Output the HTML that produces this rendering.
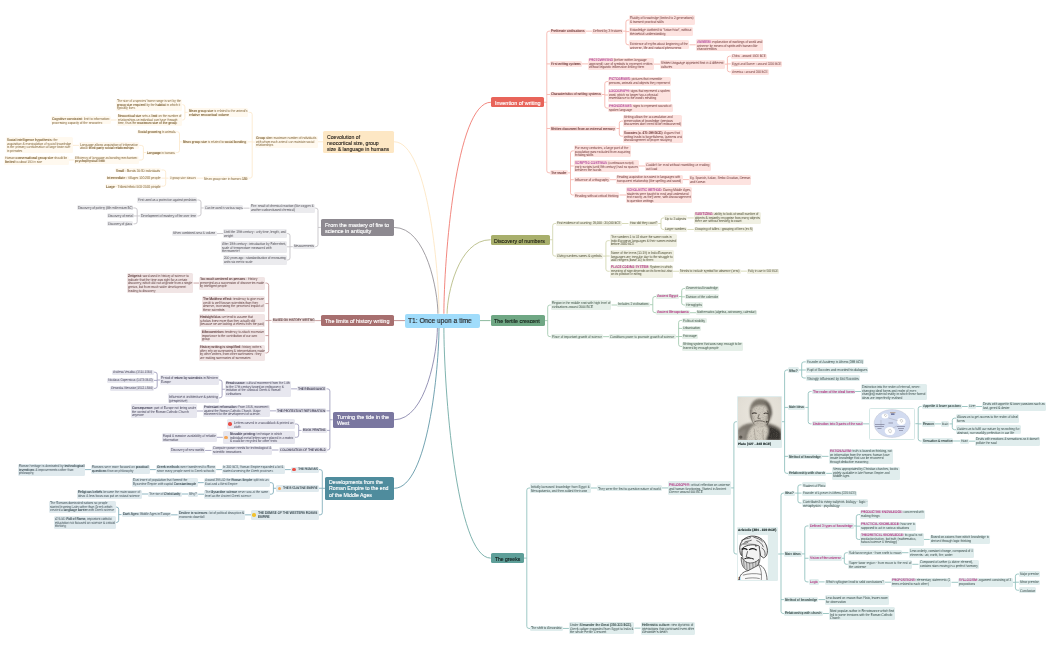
<!DOCTYPE html><html><head><meta charset="utf-8"><style>
*{margin:0;padding:0;box-sizing:border-box}
html,body{width:1050px;height:650px;overflow:hidden;background:#fff}
body{position:relative;font-family:"Liberation Sans",sans-serif}
.nd{position:absolute;border-radius:1.5px;display:flex;align-items:center;padding-left:1px;white-space:nowrap;overflow:visible}
.nd b{font-weight:bold}
.nd i{font-style:normal;font-weight:bold}
.mn{padding-left:3.9px}
.mn .t{top:1.4px;text-rendering:auto}
.mb .t{-webkit-text-stroke:0.12px currentColor}
.mw .t{-webkit-text-stroke:0.14px currentColor}
.t{transform-origin:0 50%;display:block;font-size:10px;line-height:10px;position:relative;top:0.55px;text-rendering:geometricPrecision;will-change:transform}
.ic{position:absolute;left:1.4px;top:50%;margin-top:-1.75px;width:3.5px;height:3.5px;border-radius:50%}
svg{position:absolute;left:0;top:0}
</style></head><body><svg width="1050" height="650" viewBox="0 0 1050 650" fill="none">
<path d="M323.30 141.80H317.50" stroke="#fce9cc" stroke-width="0.85"/>
<path d="M255.00 142.05H252.20" stroke="#fce9cc" stroke-width="0.85"/>
<path d="M248.50 112.30H250.00Q252.20 112.30 252.20 114.50V175.95Q252.20 178.15 250.00 178.15H248.50" stroke="#fce9cc" stroke-width="0.85"/>
<path d="M252.20 141.85H247.70" stroke="#fce9cc" stroke-width="0.85"/>
<path d="M187.70 112.30H184.90" stroke="#fce9cc" stroke-width="0.85"/>
<path d="M182.30 104.65H182.70Q184.90 104.65 184.90 106.85V117.80Q184.90 120.00 182.70 120.00H182.30" stroke="#fce9cc" stroke-width="0.85"/>
<path d="M116.60 120.00H110.80" stroke="#fce9cc" stroke-width="0.85"/>
<path d="M182.30 141.85H179.50" stroke="#fce9cc" stroke-width="0.85"/>
<path d="M176.20 131.75H177.30Q179.50 131.75 179.50 133.95V150.35Q179.50 152.55 177.30 152.55H176.20" stroke="#fce9cc" stroke-width="0.85"/>
<path d="M146.20 152.55H143.40" stroke="#fce9cc" stroke-width="0.85"/>
<path d="M139.20 145.35H141.20Q143.40 145.35 143.40 147.55V157.80Q143.40 160.00 141.20 160.00H139.20" stroke="#fce9cc" stroke-width="0.85"/>
<path d="M79.00 145.35H72.70" stroke="#fce9cc" stroke-width="0.85"/>
<path d="M74.40 160.00H68.70" stroke="#fce9cc" stroke-width="0.85"/>
<path d="M203.00 178.15H196.90" stroke="#fce9cc" stroke-width="0.85"/>
<path d="M168.50 178.15H165.70" stroke="#fce9cc" stroke-width="0.85"/>
<path d="M161.50 170.00H163.50Q165.70 170.00 165.70 172.20V183.95Q165.70 186.15 163.50 186.15H161.50" stroke="#fce9cc" stroke-width="0.85"/>
<path d="M165.70 178.15H161.50" stroke="#fce9cc" stroke-width="0.85"/>
<path d="M320.80 227.45H318.00" stroke="#c3c1c5" stroke-width="0.85"/>
<path d="M314.60 208.15H315.80Q318.00 208.15 318.00 210.35V244.50Q318.00 246.70 315.80 246.70H314.60" stroke="#c3c1c5" stroke-width="0.85"/>
<path d="M249.50 208.15H243.40" stroke="#c3c1c5" stroke-width="0.85"/>
<path d="M203.80 207.95H201.00" stroke="#c3c1c5" stroke-width="0.85"/>
<path d="M197.40 200.00H198.80Q201.00 200.00 201.00 202.20V213.75Q201.00 215.95 198.80 215.95H197.40" stroke="#c3c1c5" stroke-width="0.85"/>
<path d="M140.00 215.95H137.20" stroke="#c3c1c5" stroke-width="0.85"/>
<path d="M133.50 207.95H135.00Q137.20 207.95 137.20 210.15V221.65Q137.20 223.85 135.00 223.85H133.50" stroke="#c3c1c5" stroke-width="0.85"/>
<path d="M137.20 215.95H133.50" stroke="#c3c1c5" stroke-width="0.85"/>
<path d="M292.80 246.70H290.00" stroke="#c3c1c5" stroke-width="0.85"/>
<path d="M286.90 233.55H287.80Q290.00 233.55 290.00 235.75V257.80Q290.00 260.00 287.80 260.00H286.90" stroke="#c3c1c5" stroke-width="0.85"/>
<path d="M290.00 246.80H286.90" stroke="#c3c1c5" stroke-width="0.85"/>
<path d="M223.00 233.55H216.60" stroke="#c3c1c5" stroke-width="0.85"/>
<path d="M321.10 320.60H315.10" stroke="#c19393" stroke-width="0.85"/>
<path d="M271.50 320.40H268.70" stroke="#c19393" stroke-width="0.85"/>
<path d="M265.40 283.05H266.50Q268.70 283.05 268.70 285.25V350.75Q268.70 352.95 266.50 352.95H265.40" stroke="#c19393" stroke-width="0.85"/>
<path d="M268.70 303.55H265.40" stroke="#c19393" stroke-width="0.85"/>
<path d="M268.70 320.60H265.40" stroke="#c19393" stroke-width="0.85"/>
<path d="M268.70 335.60H265.40" stroke="#c19393" stroke-width="0.85"/>
<path d="M199.20 283.05H193.50" stroke="#c19393" stroke-width="0.85"/>
<path d="M332.70 419.75H329.90" stroke="#9e9cbc" stroke-width="0.85"/>
<path d="M326.50 388.85H327.70Q329.90 388.85 329.90 391.05V447.80Q329.90 450.00 327.70 450.00H326.50" stroke="#9e9cbc" stroke-width="0.85"/>
<path d="M329.90 410.85H326.50" stroke="#9e9cbc" stroke-width="0.85"/>
<path d="M329.90 430.40H326.50" stroke="#9e9cbc" stroke-width="0.85"/>
<path d="M297.20 388.85H291.10" stroke="#9e9cbc" stroke-width="0.85"/>
<path d="M224.90 389.25H222.10" stroke="#9e9cbc" stroke-width="0.85"/>
<path d="M218.80 380.00H219.90Q222.10 380.00 222.10 382.20V395.65Q222.10 397.85 219.90 397.85H218.80" stroke="#9e9cbc" stroke-width="0.85"/>
<path d="M160.00 380.00H157.20" stroke="#9e9cbc" stroke-width="0.85"/>
<path d="M153.80 372.20H155.00Q157.20 372.20 157.20 374.40V386.20Q157.20 388.40 155.00 388.40H153.80" stroke="#9e9cbc" stroke-width="0.85"/>
<path d="M157.20 380.40H153.80" stroke="#9e9cbc" stroke-width="0.85"/>
<path d="M276.20 410.85H270.00" stroke="#9e9cbc" stroke-width="0.85"/>
<path d="M203.40 411.00H196.90" stroke="#9e9cbc" stroke-width="0.85"/>
<path d="M301.50 430.40H298.70" stroke="#9e9cbc" stroke-width="0.85"/>
<path d="M294.60 424.00H296.50Q298.70 424.00 298.70 426.20V435.10Q298.70 437.30 296.50 437.30H294.60" stroke="#9e9cbc" stroke-width="0.85"/>
<path d="M222.80 437.30H216.60" stroke="#9e9cbc" stroke-width="0.85"/>
<path d="M278.50 450.00H272.00" stroke="#9e9cbc" stroke-width="0.85"/>
<path d="M211.50 450.45H205.10" stroke="#9e9cbc" stroke-width="0.85"/>
<path d="M325.10 488.30H322.30" stroke="#7caab8" stroke-width="0.85"/>
<path d="M318.80 469.60H320.10Q322.30 469.60 322.30 471.80V512.65Q322.30 514.85 320.10 514.85H318.80" stroke="#7caab8" stroke-width="0.85"/>
<path d="M322.30 488.25H318.80" stroke="#7caab8" stroke-width="0.85"/>
<path d="M290.80 469.60H284.60" stroke="#7caab8" stroke-width="0.85"/>
<path d="M222.30 469.60H216.20" stroke="#7caab8" stroke-width="0.85"/>
<path d="M155.80 469.60H149.70" stroke="#7caab8" stroke-width="0.85"/>
<path d="M91.10 469.60H84.90" stroke="#7caab8" stroke-width="0.85"/>
<path d="M276.20 488.25H273.40" stroke="#7caab8" stroke-width="0.85"/>
<path d="M269.70 482.65H271.20Q273.40 482.65 273.40 484.85V492.00Q273.40 494.20 271.20 494.20H269.70" stroke="#7caab8" stroke-width="0.85"/>
<path d="M203.80 482.65H197.70" stroke="#7caab8" stroke-width="0.85"/>
<path d="M204.30 494.20H198.20" stroke="#7caab8" stroke-width="0.85"/>
<path d="M188.20 494.00H181.50" stroke="#7caab8" stroke-width="0.85"/>
<path d="M148.00 494.00H141.80" stroke="#7caab8" stroke-width="0.85"/>
<path d="M251.10 514.85H245.10" stroke="#7caab8" stroke-width="0.85"/>
<path d="M177.70 514.85H171.10" stroke="#7caab8" stroke-width="0.85"/>
<path d="M121.50 514.60H118.70" stroke="#7caab8" stroke-width="0.85"/>
<path d="M115.80 507.10H116.50Q118.70 507.10 118.70 509.30V520.25Q118.70 522.45 116.50 522.45H115.80" stroke="#7caab8" stroke-width="0.85"/>
<path d="M544.00 102.25H546.80" stroke="#f6b2aa" stroke-width="0.85"/>
<path d="M550.30 31.15H549.00Q546.80 31.15 546.80 33.35V170.65Q546.80 172.85 549.00 172.85H550.30" stroke="#f6b2aa" stroke-width="0.85"/>
<path d="M546.80 63.90H550.30" stroke="#f6b2aa" stroke-width="0.85"/>
<path d="M546.80 94.50H550.30" stroke="#f6b2aa" stroke-width="0.85"/>
<path d="M546.80 128.50H550.30" stroke="#f6b2aa" stroke-width="0.85"/>
<path d="M585.70 31.15H592.00" stroke="#f6b2aa" stroke-width="0.85"/>
<path d="M623.10 31.15H625.90" stroke="#f6b2aa" stroke-width="0.85"/>
<path d="M629.20 20.00H628.10Q625.90 20.00 625.90 22.20V42.60Q625.90 44.80 628.10 44.80H629.20" stroke="#f6b2aa" stroke-width="0.85"/>
<path d="M625.90 31.60H629.20" stroke="#f6b2aa" stroke-width="0.85"/>
<path d="M689.50 44.80H695.70" stroke="#f6b2aa" stroke-width="0.85"/>
<path d="M582.00 63.90H588.20" stroke="#f6b2aa" stroke-width="0.85"/>
<path d="M653.80 64.10H660.00" stroke="#f6b2aa" stroke-width="0.85"/>
<path d="M724.60 64.15H727.40" stroke="#f6b2aa" stroke-width="0.85"/>
<path d="M730.80 56.15H729.60Q727.40 56.15 727.40 58.35V69.70Q727.40 71.90 729.60 71.90H730.80" stroke="#f6b2aa" stroke-width="0.85"/>
<path d="M727.40 63.90H730.80" stroke="#f6b2aa" stroke-width="0.85"/>
<path d="M602.00 94.50H604.80" stroke="#f6b2aa" stroke-width="0.85"/>
<path d="M608.20 81.55H607.00Q604.80 81.55 604.80 83.75V105.90Q604.80 108.10 607.00 108.10H608.20" stroke="#f6b2aa" stroke-width="0.85"/>
<path d="M604.80 95.00H608.20" stroke="#f6b2aa" stroke-width="0.85"/>
<path d="M616.50 128.50H619.30" stroke="#f6b2aa" stroke-width="0.85"/>
<path d="M623.10 121.10H621.50Q619.30 121.10 619.30 123.30V134.00Q619.30 136.20 621.50 136.20H623.10" stroke="#f6b2aa" stroke-width="0.85"/>
<path d="M567.70 172.85H570.50" stroke="#f6b2aa" stroke-width="0.85"/>
<path d="M573.80 150.90H572.70Q570.50 150.90 570.50 153.10V192.80Q570.50 195.00 572.70 195.00H573.80" stroke="#f6b2aa" stroke-width="0.85"/>
<path d="M570.50 166.00H573.80" stroke="#f6b2aa" stroke-width="0.85"/>
<path d="M570.50 179.70H573.80" stroke="#f6b2aa" stroke-width="0.85"/>
<path d="M638.90 166.00H645.30" stroke="#f6b2aa" stroke-width="0.85"/>
<path d="M609.70 179.70H616.20" stroke="#f6b2aa" stroke-width="0.85"/>
<path d="M682.60 179.60H688.90" stroke="#f6b2aa" stroke-width="0.85"/>
<path d="M619.50 195.00H626.20" stroke="#f6b2aa" stroke-width="0.85"/>
<path d="M549.90 239.75H552.70" stroke="#d1d5ad" stroke-width="0.85"/>
<path d="M556.20 223.50H554.90Q552.70 223.50 552.70 225.70V253.90Q552.70 256.10 554.90 256.10H556.20" stroke="#d1d5ad" stroke-width="0.85"/>
<path d="M622.00 223.50H628.50" stroke="#d1d5ad" stroke-width="0.85"/>
<path d="M658.20 223.50H661.00" stroke="#d1d5ad" stroke-width="0.85"/>
<path d="M664.30 217.95H663.20Q661.00 217.95 661.00 220.15V227.25Q661.00 229.45 663.20 229.45H664.30" stroke="#d1d5ad" stroke-width="0.85"/>
<path d="M687.40 217.95H693.80" stroke="#d1d5ad" stroke-width="0.85"/>
<path d="M687.40 229.45H693.80" stroke="#d1d5ad" stroke-width="0.85"/>
<path d="M603.10 256.10H605.90" stroke="#d1d5ad" stroke-width="0.85"/>
<path d="M609.70 240.65H608.10Q605.90 240.65 605.90 242.85V269.05Q605.90 271.25 608.10 271.25H609.70" stroke="#d1d5ad" stroke-width="0.85"/>
<path d="M605.90 256.00H609.70" stroke="#d1d5ad" stroke-width="0.85"/>
<path d="M673.10 271.25H679.20" stroke="#d1d5ad" stroke-width="0.85"/>
<path d="M740.80 271.15H746.90" stroke="#d1d5ad" stroke-width="0.85"/>
<path d="M544.90 320.60H547.70" stroke="#a0c9ad" stroke-width="0.85"/>
<path d="M550.80 305.00H549.90Q547.70 305.00 547.70 307.20V334.45Q547.70 336.65 549.90 336.65H550.80" stroke="#a0c9ad" stroke-width="0.85"/>
<path d="M611.50 305.00H617.40" stroke="#a0c9ad" stroke-width="0.85"/>
<path d="M650.00 304.70H652.80" stroke="#a0c9ad" stroke-width="0.85"/>
<path d="M656.20 296.50H655.00Q652.80 296.50 652.80 298.70V310.50Q652.80 312.70 655.00 312.70H656.20" stroke="#a0c9ad" stroke-width="0.85"/>
<path d="M678.90 296.50H681.70" stroke="#a0c9ad" stroke-width="0.85"/>
<path d="M685.10 288.50H683.90Q681.70 288.50 681.70 290.70V302.80Q681.70 305.00 683.90 305.00H685.10" stroke="#a0c9ad" stroke-width="0.85"/>
<path d="M681.70 296.85H685.10" stroke="#a0c9ad" stroke-width="0.85"/>
<path d="M690.00 312.70H696.20" stroke="#a0c9ad" stroke-width="0.85"/>
<path d="M603.10 336.65H609.20" stroke="#a0c9ad" stroke-width="0.85"/>
<path d="M675.80 336.65H678.60" stroke="#a0c9ad" stroke-width="0.85"/>
<path d="M682.30 320.40H680.80Q678.60 320.40 678.60 322.60V344.25Q678.60 346.45 680.80 346.45H682.30" stroke="#a0c9ad" stroke-width="0.85"/>
<path d="M678.60 328.40H682.30" stroke="#a0c9ad" stroke-width="0.85"/>
<path d="M678.60 336.50H682.30" stroke="#a0c9ad" stroke-width="0.85"/>
<path d="M524.00 558.10H526.80" stroke="#8dbeba" stroke-width="0.85"/>
<path d="M530.00 488.00H529.00Q526.80 488.00 526.80 490.20V626.25Q526.80 628.45 529.00 628.45H530.00" stroke="#8dbeba" stroke-width="0.85"/>
<path d="M590.80 488.00H596.90" stroke="#8dbeba" stroke-width="0.85"/>
<path d="M662.00 487.95H668.00" stroke="#8dbeba" stroke-width="0.85"/>
<path d="M731.10 487.90H733.90" stroke="#8dbeba" stroke-width="0.85"/>
<path d="M736.90 421.70H736.10Q733.90 421.70 733.90 423.90V551.80Q733.90 554.00 736.10 554.00H737.00" stroke="#8dbeba" stroke-width="0.85"/>
<path d="M562.60 628.45H568.90" stroke="#8dbeba" stroke-width="0.85"/>
<path d="M634.50 628.15H640.60" stroke="#8dbeba" stroke-width="0.85"/>
<path d="M781.80 421.70H784.60" stroke="#8dbeba" stroke-width="0.85"/>
<path d="M788.20 370.00H786.80Q784.60 370.00 784.60 372.20V471.15Q784.60 473.35 786.80 473.35H788.00" stroke="#8dbeba" stroke-width="0.85"/>
<path d="M784.60 407.40H788.20" stroke="#8dbeba" stroke-width="0.85"/>
<path d="M784.60 456.35H788.00" stroke="#8dbeba" stroke-width="0.85"/>
<path d="M798.90 370.00H801.70" stroke="#8dbeba" stroke-width="0.85"/>
<path d="M805.80 361.90H803.90Q801.70 361.90 801.70 364.10V375.80Q801.70 378.00 803.90 378.00H805.80" stroke="#8dbeba" stroke-width="0.85"/>
<path d="M801.70 370.00H805.80" stroke="#8dbeba" stroke-width="0.85"/>
<path d="M805.40 407.40H808.20" stroke="#8dbeba" stroke-width="0.85"/>
<path d="M811.50 391.50H810.40Q808.20 391.50 808.20 393.70V421.65Q808.20 423.85 810.40 423.85H811.50" stroke="#8dbeba" stroke-width="0.85"/>
<path d="M855.10 391.50H861.10" stroke="#8dbeba" stroke-width="0.85"/>
<path d="M863.10 423.85H869.20" stroke="#8dbeba" stroke-width="0.85"/>
<path d="M915.40 423.70H918.20" stroke="#8dbeba" stroke-width="0.85"/>
<path d="M921.50 406.50H920.40Q918.20 406.50 918.20 408.70V438.80Q918.20 441.00 920.40 441.00H921.50" stroke="#8dbeba" stroke-width="0.85"/>
<path d="M918.20 423.90H921.50" stroke="#8dbeba" stroke-width="0.85"/>
<path d="M961.50 406.50H967.70" stroke="#8dbeba" stroke-width="0.85"/>
<path d="M976.20 406.50H982.30" stroke="#8dbeba" stroke-width="0.85"/>
<path d="M934.60 423.90H941.20" stroke="#8dbeba" stroke-width="0.85"/>
<path d="M949.50 423.90H952.30" stroke="#8dbeba" stroke-width="0.85"/>
<path d="M956.20 418.15H954.50Q952.30 418.15 952.30 420.35V427.50Q952.30 429.70 954.50 429.70H956.20" stroke="#8dbeba" stroke-width="0.85"/>
<path d="M953.10 441.00H960.00" stroke="#8dbeba" stroke-width="0.85"/>
<path d="M968.90 441.15H975.10" stroke="#8dbeba" stroke-width="0.85"/>
<path d="M821.80 456.35H828.50" stroke="#8dbeba" stroke-width="0.85"/>
<path d="M826.20 473.35H832.30" stroke="#8dbeba" stroke-width="0.85"/>
<path d="M778.20 554.00H781.00" stroke="#8dbeba" stroke-width="0.85"/>
<path d="M784.30 493.10H783.20Q781.00 493.10 781.00 495.30V611.30Q781.00 613.50 783.20 613.50H784.30" stroke="#8dbeba" stroke-width="0.85"/>
<path d="M781.00 553.90H784.30" stroke="#8dbeba" stroke-width="0.85"/>
<path d="M781.00 599.60H784.30" stroke="#8dbeba" stroke-width="0.85"/>
<path d="M795.10 493.10H797.90" stroke="#8dbeba" stroke-width="0.85"/>
<path d="M801.50 484.85H800.10Q797.90 484.85 797.90 487.05V500.75Q797.90 502.95 800.10 502.95H801.50" stroke="#8dbeba" stroke-width="0.85"/>
<path d="M797.90 493.10H801.50" stroke="#8dbeba" stroke-width="0.85"/>
<path d="M802.00 553.90H804.80" stroke="#8dbeba" stroke-width="0.85"/>
<path d="M808.50 525.95H807.00Q804.80 525.95 804.80 528.15V579.70Q804.80 581.90 807.00 581.90H808.50" stroke="#8dbeba" stroke-width="0.85"/>
<path d="M804.80 558.25H808.50" stroke="#8dbeba" stroke-width="0.85"/>
<path d="M853.50 525.95H856.30" stroke="#8dbeba" stroke-width="0.85"/>
<path d="M860.30 514.60H858.50Q856.30 514.60 856.30 516.80V537.25Q856.30 539.45 858.50 539.45H860.30" stroke="#8dbeba" stroke-width="0.85"/>
<path d="M856.30 526.15H860.30" stroke="#8dbeba" stroke-width="0.85"/>
<path d="M923.80 539.45H929.70" stroke="#8dbeba" stroke-width="0.85"/>
<path d="M841.50 558.25H844.30" stroke="#8dbeba" stroke-width="0.85"/>
<path d="M847.70 552.70H846.50Q844.30 552.70 844.30 554.90V562.10Q844.30 564.30 846.50 564.30H847.70" stroke="#8dbeba" stroke-width="0.85"/>
<path d="M902.00 552.70H908.50" stroke="#8dbeba" stroke-width="0.85"/>
<path d="M912.30 564.30H918.50" stroke="#8dbeba" stroke-width="0.85"/>
<path d="M818.50 581.90H824.60" stroke="#8dbeba" stroke-width="0.85"/>
<path d="M884.60 582.20H891.10" stroke="#8dbeba" stroke-width="0.85"/>
<path d="M951.50 582.30H958.20" stroke="#8dbeba" stroke-width="0.85"/>
<path d="M1012.60 582.30H1015.40" stroke="#8dbeba" stroke-width="0.85"/>
<path d="M1018.90 574.05H1017.60Q1015.40 574.05 1015.40 576.25V588.05Q1015.40 590.25 1017.60 590.25H1018.90" stroke="#8dbeba" stroke-width="0.85"/>
<path d="M1015.40 582.20H1018.90" stroke="#8dbeba" stroke-width="0.85"/>
<path d="M818.50 599.60H825.10" stroke="#8dbeba" stroke-width="0.85"/>
<path d="M822.80 613.50H828.90" stroke="#8dbeba" stroke-width="0.85"/>
<path d="M394.10 141.80C427.77 141.80 439.00 270.73 439.00 313.70" stroke="#fde3bd" stroke-width="0.8"/>
<path d="M394.10 227.45C426.95 227.45 437.90 292.14 437.90 313.70" stroke="#8a868d" stroke-width="0.8"/>
<path d="M490.90 102.25C455.65 102.25 443.90 260.84 443.90 313.70" stroke="#ef6a5f" stroke-width="0.8"/>
<path d="M490.60 239.75C457.98 239.75 447.10 295.21 447.10 313.70" stroke="#aeb476" stroke-width="0.8"/>
<path d="M394.10 419.75C426.57 419.75 437.40 350.64 437.40 327.60" stroke="#7b78a3" stroke-width="0.8"/>
<path d="M394.20 488.30C427.80 488.30 439.00 367.78 439.00 327.60" stroke="#4f8c9d" stroke-width="0.8"/>
<path d="M490.70 558.10C455.60 558.10 443.90 385.23 443.90 327.60" stroke="#5e9f99" stroke-width="0.8"/>
<path d="M393.8 320.6H404.9" stroke="#b07575" stroke-width="0.8"/>
<path d="M479.7 320.6H490.5" stroke="#6fa784" stroke-width="0.8"/>
</svg><div id="n_coev" class="nd mn mb" style="left:323.30px;top:130.80px;width:70.80px;height:22.00px;background:#fde7c4;color:#2a241e;border-radius:1.6px"><span class="t" style="font-size:5.183px;line-height:6.000px">Coevolution of<br>neocortical size, group<br>size &amp; language in humans</span></div>
<div id="n_gsize" class="nd" style="left:255.00px;top:135.80px;width:62.50px;height:12.50px;background:#fff9ef;color:#7a5e30"><span class="t" style="font-size:3.819px;line-height:3.720px;transform:scaleX(0.8000)"><b>Group size:</b> maximum number of individuals<br>with whom each animal can maintain social<br>relationships</span></div>
<div id="n_mgs1" class="nd" style="left:187.70px;top:107.70px;width:60.80px;height:9.20px;background:#fff9ef;color:#7a5e30"><span class="t" style="font-size:3.889px;line-height:3.720px;transform:scaleX(0.8000)"><b>Mean group size</b> is related to the animal's<br><b>relative neocortical volume</b></span></div>
<div id="n_mgs2" class="nd" style="left:182.30px;top:139.50px;width:65.40px;height:4.70px;background:#fff9ef;color:#7a5e30"><span class="t" style="font-size:3.847px;line-height:3.700px;transform:scaleX(0.8000)"><b>Mean group size</b> is related to <b>social bonding</b></span></div>
<div id="n_mgs3" class="nd" style="left:203.00px;top:175.80px;width:45.50px;height:4.70px;background:#fff9ef;color:#7a5e30"><span class="t" style="font-size:3.884px;line-height:3.700px;transform:scaleX(0.8000)">Mean group size in human: <b>150</b></span></div>
<div id="n_hr" class="nd" style="left:116.20px;top:98.50px;width:66.10px;height:12.30px;background:#fff9ef;color:#7a5e30"><span class="t" style="font-size:3.852px;line-height:3.720px;transform:scaleX(0.8000)">The size of a species' home range is set by the<br><b>group size required</b> by the <b>habitat</b> in which it<br>typically lives</span></div>
<div id="n_neo" class="nd" style="left:116.60px;top:113.80px;width:65.70px;height:12.40px;background:#fff9ef;color:#7a5e30"><span class="t" style="font-size:3.847px;line-height:3.720px;transform:scaleX(0.8000)"><b>Neocortical size</b> sets a <b>limit</b> on the number of<br>relationships an individual can have through<br>time, thus the <b>maximum size of the group</b></span></div>
<div id="n_cog" class="nd" style="left:50.80px;top:115.80px;width:60.00px;height:8.60px;background:#fff9ef;color:#7a5e30"><span class="t" style="font-size:3.877px;line-height:3.720px;transform:scaleX(0.8000)"><b>Cognitive constraint:</b> limit to information-<br>processing capacity of the neocortex</span></div>
<div id="n_groom" class="nd" style="left:136.90px;top:129.70px;width:39.30px;height:4.10px;background:#fff9ef;color:#7a5e30"><span class="t" style="font-size:3.700px;line-height:3.100px;transform:scaleX(0.8000)"><b>Social grooming</b> in animals</span></div>
<div id="n_lang" class="nd" style="left:146.20px;top:150.50px;width:30.00px;height:4.10px;background:#fff9ef;color:#7a5e30"><span class="t" style="font-size:3.646px;line-height:3.100px;transform:scaleX(0.8000)"><b>Language</b> in humans</span></div>
<div id="n_lang1" class="nd" style="left:79.00px;top:141.50px;width:60.20px;height:7.70px;background:#fff9ef;color:#7a5e30"><span class="t" style="font-size:3.870px;line-height:3.350px;transform:scaleX(0.8000)">Language allows acquisition of information<br>about <b>third-party social relationships</b></span></div>
<div id="n_lang2" class="nd" style="left:74.40px;top:156.20px;width:64.80px;height:7.60px;background:#fff9ef;color:#7a5e30"><span class="t" style="font-size:3.811px;line-height:3.300px;transform:scaleX(0.8000)">Efficiency of language as bonding mechanism:<br><b>psychophysical limit</b></span></div>
<div id="n_sih" class="nd" style="left:6.30px;top:137.10px;width:66.40px;height:15.60px;background:#fff9ef;color:#7a5e30"><span class="t" style="font-size:3.908px;line-height:3.650px;transform:scaleX(0.8000)"><b>Social intelligence hypothesis:</b> the<br>acquisition &amp; manipulation of social knowledge<br>is the primary consideration of large brain size<br>in primates</span></div>
<div id="n_conv" class="nd" style="left:4.00px;top:155.90px;width:64.70px;height:8.90px;background:#fff9ef;color:#7a5e30"><span class="t" style="font-size:3.823px;line-height:3.720px;transform:scaleX(0.8000)">Human <b>conversational group size</b> should be<br><b>limited</b> to about 150 in size</span></div>
<div id="n_cls3" class="nd" style="left:168.50px;top:175.80px;width:28.40px;height:4.70px;background:#fff9ef;color:#7a5e30"><span class="t" style="font-size:3.626px;line-height:3.700px;transform:scaleX(0.8000)">3 group size classes</span></div>
<div id="n_small" class="nd" style="left:115.40px;top:167.70px;width:46.10px;height:4.60px;background:#fff9ef;color:#7a5e30"><span class="t" style="font-size:3.882px;line-height:3.600px;transform:scaleX(0.8000)"><b>Small</b> - Bands 30-50 individuals</span></div>
<div id="n_inter" class="nd" style="left:106.20px;top:175.80px;width:55.30px;height:4.70px;background:#fff9ef;color:#7a5e30"><span class="t" style="font-size:3.807px;line-height:3.700px;transform:scaleX(0.8000)"><b>Intermediate</b> - Villages 100-200 people</span></div>
<div id="n_large" class="nd" style="left:104.60px;top:183.80px;width:56.90px;height:4.70px;background:#fff9ef;color:#7a5e30"><span class="t" style="font-size:4.013px;line-height:3.700px;transform:scaleX(0.8000)"><b>Large</b> - Tribes/ethnic 500-2500 people</span></div>
<div id="n_fire" class="nd mn mw" style="left:320.80px;top:219.20px;width:73.30px;height:16.50px;background:#8d8990;color:#ffffff;border-radius:1.6px"><span class="t" style="font-size:5.470px;line-height:6.000px;top:0.1px">From the mastery of fire to<br>science in antiquity</span></div>
<div id="n_fireres" class="nd" style="left:249.50px;top:203.50px;width:65.10px;height:9.30px;background:#ebebee;color:#4a4950"><span class="t" style="font-size:3.848px;line-height:3.720px;transform:scaleX(0.8000)">Fire: result of chemical reaction (like oxygen &amp;<br>another carbon-based chemical)</span></div>
<div id="n_meas" class="nd" style="left:292.80px;top:244.20px;width:21.80px;height:5.00px;background:#ebebee;color:#4a4950"><span class="t" style="font-size:3.750px;line-height:3.720px;transform:scaleX(0.8000)">Measurements</span></div>
<div id="n_various" class="nd" style="left:203.80px;top:205.40px;width:39.60px;height:5.10px;background:#ebebee;color:#4a4950"><span class="t" style="font-size:3.672px;line-height:3.720px;transform:scaleX(0.8000)">Can be used in various ways</span></div>
<div id="n_protect" class="nd" style="left:136.90px;top:197.40px;width:60.50px;height:5.20px;background:#ebebee;color:#4a4950"><span class="t" style="font-size:3.809px;line-height:3.720px;transform:scaleX(0.8000)">First used as a protection against predators</span></div>
<div id="n_mastery" class="nd" style="left:140.00px;top:213.40px;width:57.40px;height:5.10px;background:#ebebee;color:#4a4950"><span class="t" style="font-size:3.847px;line-height:3.720px;transform:scaleX(0.8000)">Development of mastery of fire over time</span></div>
<div id="n_pottery" class="nd" style="left:76.60px;top:205.40px;width:56.90px;height:5.10px;background:#ebebee;color:#4a4950"><span class="t" style="font-size:3.834px;line-height:3.720px;transform:scaleX(0.8000)">Discovery of pottery (6th millennium BC)</span></div>
<div id="n_metal" class="nd" style="left:106.50px;top:213.40px;width:27.00px;height:5.10px;background:#ebebee;color:#4a4950"><span class="t" style="font-size:3.811px;line-height:3.720px;transform:scaleX(0.8000)">Discovery of metal</span></div>
<div id="n_glass" class="nd" style="left:107.40px;top:221.20px;width:26.10px;height:5.30px;background:#ebebee;color:#4a4950"><span class="t" style="font-size:3.719px;line-height:3.720px;transform:scaleX(0.8000)">Discovery of glass</span></div>
<div id="n_until18" class="nd" style="left:223.00px;top:228.90px;width:63.90px;height:9.30px;background:#ebebee;color:#4a4950"><span class="t" style="font-size:3.908px;line-height:3.720px;transform:scaleX(0.8000)">Until the 18th century - only time, length, and<br>weight</span></div>
<div id="n_after18" class="nd" style="left:220.50px;top:240.50px;width:66.40px;height:12.60px;background:#ebebee;color:#4a4950"><span class="t" style="font-size:3.908px;line-height:3.720px;transform:scaleX(0.8000)">After 18th century - introduction by Fahrenheit,<br>scale of temperature measured with<br>thermometer</span></div>
<div id="n_y200" class="nd" style="left:223.00px;top:255.40px;width:63.90px;height:9.20px;background:#ebebee;color:#4a4950"><span class="t" style="font-size:3.850px;line-height:3.720px;transform:scaleX(0.8000)">200 years ago - standardisation of measuring<br>units via metric scale</span></div>
<div id="n_combined" class="nd" style="left:172.00px;top:230.80px;width:44.60px;height:5.40px;background:#ebebee;color:#4a4950"><span class="t" style="font-size:3.804px;line-height:3.720px;transform:scaleX(0.8000)">When combined area &amp; volume</span></div>
<div id="n_limits" class="nd mn mw" style="left:321.10px;top:315.40px;width:72.70px;height:10.40px;background:#a76f6f;color:#ffffff;border-radius:1.6px"><span class="t" style="font-size:5.475px;line-height:6.569px;top:0.4px">The limits of history writing</span></div>
<div id="n_based" class="nd" style="left:271.50px;top:317.70px;width:43.60px;height:5.40px;background:#f1e5e5;color:#5a3838"><span class="t" style="font-size:3.586px;line-height:3.720px;transform:scaleX(0.8000)"><b>BASED ON HISTORY WRITING</b></span></div>
<div id="n_persons" class="nd" style="left:199.20px;top:276.50px;width:66.20px;height:13.10px;background:#f1e5e5;color:#5a3838"><span class="t" style="font-size:3.821px;line-height:3.720px;transform:scaleX(0.8000)"><b>Too much centered on persons</b> - History<br>presented as a succession of discoveries made<br>by intelligent people</span></div>
<div id="n_matthew" class="nd" style="left:202.00px;top:295.50px;width:63.40px;height:16.10px;background:#f1e5e5;color:#5a3838"><span class="t" style="font-size:3.936px;line-height:3.720px;transform:scaleX(0.8000)"><b>The Matthew effect:</b> tendency to give more<br>credit to well-known scientists than they<br>deserve, increasing the perceived impact of<br>these scientists</span></div>
<div id="n_hind" class="nd" style="left:199.20px;top:314.20px;width:66.20px;height:12.80px;background:#f1e5e5;color:#5a3838"><span class="t" style="font-size:3.715px;line-height:3.720px;transform:scaleX(0.8000)"><b>Hindsight bias:</b> we tend to assume that<br>scholars knew more than they actually did<br>(because we are looking at events from the past)</span></div>
<div id="n_ethno" class="nd" style="left:200.80px;top:329.30px;width:64.60px;height:12.60px;background:#f1e5e5;color:#5a3838"><span class="t" style="font-size:3.817px;line-height:3.720px;transform:scaleX(0.8000)"><b>Ethnocentrism:</b> tendency to attach excessive<br>importance to the contribution of our own<br>group</span></div>
<div id="n_simpl" class="nd" style="left:198.50px;top:344.70px;width:66.90px;height:16.50px;background:#f1e5e5;color:#5a3838"><span class="t" style="font-size:3.863px;line-height:3.720px;transform:scaleX(0.8000)"><b>History writing is simplified:</b> history writers<br>often rely on summaries &amp; interpretations made<br>by other writers, from other summaries - they<br>are making summaries of summaries</span></div>
<div id="n_zeit" class="nd" style="left:126.90px;top:273.00px;width:66.60px;height:20.20px;background:#f1e5e5;color:#5a3838"><span class="t" style="font-size:3.901px;line-height:3.720px;transform:scaleX(0.8000)"><b>Zeitgeist:</b> word used in history of science to<br>indicate that the time was right for a certain<br>discovery, which did not originate from a single<br>genius, but from much wider development<br>leading to discovery</span></div>
<div id="n_tide" class="nd mn mw" style="left:332.70px;top:411.70px;width:61.40px;height:16.10px;background:#7a77a0;color:#ffffff;border-radius:1.6px"><span class="t" style="font-size:5.427px;line-height:5.800px">Turning the tide in the<br>West</span></div>
<div id="n_renais" class="nd" style="left:297.20px;top:386.20px;width:29.30px;height:5.30px;background:#e7e7ef;color:#3e3c52"><span class="t" style="font-size:3.555px;line-height:3.720px;transform:scaleX(0.8000)"><b>THE RENAISSANCE</b></span></div>
<div id="n_reform" class="nd" style="left:276.20px;top:408.20px;width:50.30px;height:5.30px;background:#e7e7ef;color:#3e3c52"><span class="t" style="font-size:3.637px;line-height:3.720px;transform:scaleX(0.8000)"><b>THE PROTESTANT REFORMATION</b></span></div>
<div id="n_book" class="nd" style="left:301.50px;top:427.70px;width:25.00px;height:5.40px;background:#e7e7ef;color:#3e3c52"><span class="t" style="font-size:3.549px;line-height:3.720px;transform:scaleX(0.8000)"><b>BOOK PRINTING</b></span></div>
<div id="n_colon" class="nd" style="left:278.50px;top:447.20px;width:48.00px;height:5.60px;background:#e7e7ef;color:#3e3c52"><span class="t" style="font-size:3.686px;line-height:3.720px;transform:scaleX(0.8000)"><b>COLONISATION OF THE WORLD</b></span></div>
<div id="n_rendef" class="nd" style="left:224.90px;top:381.10px;width:66.20px;height:16.30px;background:#e7e7ef;color:#3e3c52"><span class="t" style="font-size:3.803px;line-height:3.720px;transform:scaleX(0.8000)"><b>Renaissance:</b> cultural movement from the 14th<br>to the 17th century based on rediscovery &amp;<br>imitation of the classical Greek &amp; Roman<br>civilisations</span></div>
<div id="n_period" class="nd" style="left:160.00px;top:375.40px;width:58.80px;height:9.20px;background:#e7e7ef;color:#3e3c52"><span class="t" style="font-size:3.838px;line-height:3.720px;transform:scaleX(0.8000)">Period of <b>return by scientists</b> in Western<br>Europe</span></div>
<div id="n_infl" class="nd" style="left:168.20px;top:393.10px;width:50.60px;height:9.50px;background:#e7e7ef;color:#3e3c52"><span class="t" style="font-size:3.971px;line-height:3.720px;transform:scaleX(0.8000)">Influence in architecture &amp; painting<br>(perspective)</span></div>
<div id="n_vesal" class="nd" style="left:112.30px;top:369.50px;width:41.50px;height:5.40px;background:#e7e7ef;color:#3e3c52"><span class="t" style="font-size:3.657px;line-height:3.720px;transform:scaleX(0.8000)">Andreas Vesalius (1514-1564)</span></div>
<div id="n_coper" class="nd" style="left:106.90px;top:377.70px;width:46.90px;height:5.40px;background:#e7e7ef;color:#3e3c52"><span class="t" style="font-size:3.767px;line-height:3.720px;transform:scaleX(0.8000)">Nicolaus Copernicus (1473-1543)</span></div>
<div id="n_merc" class="nd" style="left:110.00px;top:385.70px;width:43.80px;height:5.40px;background:#e7e7ef;color:#3e3c52"><span class="t" style="font-size:3.706px;line-height:3.720px;transform:scaleX(0.8000)">Gerardus Mercator (1512-1594)</span></div>
<div id="n_prot" class="nd" style="left:203.40px;top:404.60px;width:66.60px;height:12.80px;background:#e7e7ef;color:#3e3c52"><span class="t" style="font-size:3.756px;line-height:3.720px;transform:scaleX(0.8000)"><b>Protestant reformation:</b> From 1515, movement<br>against the Roman Catholic Church. Major<br>movement for the development of science.</span></div>
<div id="n_conseq" class="nd" style="left:130.80px;top:404.30px;width:66.10px;height:13.40px;background:#e7e7ef;color:#3e3c52"><span class="t" style="font-size:3.871px;line-height:3.720px;transform:scaleX(0.8000)"><b>Consequence:</b> part of Europe not being under<br>the control of the Roman Catholic Church<br>anymore</span></div>
<div id="n_carved" class="nd" style="left:226.90px;top:419.20px;width:67.70px;height:9.60px;background:#e7e7ef;color:#3e3c52;padding-left:7.0px"><span class="ic" style="background:#ea4f46"></span><span class="t" style="font-size:3.948px;line-height:3.720px;transform:scaleX(0.8000)">Letters carved in a woodblock &amp; printed on<br>cloth</span></div>
<div id="n_movable" class="nd" style="left:222.80px;top:430.80px;width:71.80px;height:13.00px;background:#e7e7ef;color:#3e3c52;padding-left:7.0px"><span class="ic" style="background:#f6a656"></span><span class="t" style="font-size:3.890px;line-height:3.720px;transform:scaleX(0.8000)"><b>Movable printing:</b> technique in which<br>individual metal letters were placed in a matrix<br>&amp; could be recycled for other texts</span></div>
<div id="n_rapid" class="nd" style="left:161.50px;top:432.80px;width:55.10px;height:9.20px;background:#e7e7ef;color:#3e3c52"><span class="t" style="font-size:3.904px;line-height:3.720px;transform:scaleX(0.8000)">Rapid &amp; massive availability of reliable<br>information</span></div>
<div id="n_compu" class="nd" style="left:211.50px;top:445.80px;width:60.50px;height:9.30px;background:#e7e7ef;color:#3e3c52"><span class="t" style="font-size:3.869px;line-height:3.720px;transform:scaleX(0.8000)">Computer power needs for technological &amp;<br>scientific innovations</span></div>
<div id="n_newworld" class="nd" style="left:170.00px;top:447.40px;width:35.10px;height:5.70px;background:#e7e7ef;color:#3e3c52"><span class="t" style="font-size:3.831px;line-height:3.720px;transform:scaleX(0.8000)">Discovery of new worlds</span></div>
<div id="n_dev" class="nd mn mw" style="left:325.10px;top:477.00px;width:69.10px;height:22.60px;background:#4f8c9d;color:#ffffff;border-radius:1.6px"><span class="t" style="font-size:5.228px;line-height:6.300px;top:0.5px">Developments from the<br>Roman Empire to the end<br>of the Middle Ages</span></div>
<div id="n_romans" class="nd" style="left:290.80px;top:466.50px;width:28.00px;height:6.20px;background:#e0eaee;color:#3a4b52;padding-left:7.0px"><span class="ic" style="background:#ea4f46"></span><span class="t" style="font-size:3.731px;line-height:3.720px;transform:scaleX(0.8000)"><b>THE ROMANS</b></span></div>
<div id="n_byz" class="nd" style="left:276.20px;top:485.00px;width:42.60px;height:6.50px;background:#e0eaee;color:#3a4b52;padding-left:7.0px"><span class="ic" style="background:#f6a656"></span><span class="t" style="font-size:3.574px;line-height:3.720px;transform:scaleX(0.8000)"><b>THE BYZANTINE EMPIRE</b></span></div>
<div id="n_demise" class="nd" style="left:251.10px;top:510.10px;width:67.70px;height:9.50px;background:#e0eaee;color:#3a4b52;padding-left:7.0px"><span class="ic" style="background:#f2c230"></span><span class="t" style="font-size:3.847px;line-height:3.720px;transform:scaleX(0.8000)"><b>THE DEMISE OF THE WESTERN ROMAN<br>EMPIRE</b></span></div>
<div id="n_annex" class="nd" style="left:222.30px;top:465.00px;width:62.30px;height:9.20px;background:#e0eaee;color:#3a4b52"><span class="t" style="font-size:3.750px;line-height:3.720px;transform:scaleX(0.8000)">In 200 BCE, Roman Empire expanded a lot &amp;<br>started annexing the Greek provinces</span></div>
<div id="n_greekm" class="nd" style="left:155.80px;top:465.00px;width:60.40px;height:9.20px;background:#e0eaee;color:#3a4b52"><span class="t" style="font-size:3.862px;line-height:3.720px;transform:scaleX(0.8000)"><b>Greek methods</b> were transferred to Rome<br>since many people went to Greek schools</span></div>
<div id="n_practical" class="nd" style="left:91.10px;top:465.00px;width:58.60px;height:9.20px;background:#e0eaee;color:#3a4b52"><span class="t" style="font-size:3.866px;line-height:3.720px;transform:scaleX(0.8000)">Romans were more focused on <b>practical<br>questions</b> than on philosophy</span></div>
<div id="n_heritage" class="nd" style="left:17.70px;top:463.50px;width:67.20px;height:12.70px;background:#e0eaee;color:#3a4b52"><span class="t" style="font-size:3.863px;line-height:3.720px;transform:scaleX(0.8000)">Roman heritage is dominated by <b>technological<br>inventions</b> &amp; improvements rather than<br>philosophy</span></div>
<div id="n_split" class="nd" style="left:203.80px;top:478.00px;width:65.90px;height:9.30px;background:#e0eaee;color:#3a4b52"><span class="t" style="font-size:3.786px;line-height:3.720px;transform:scaleX(0.8000)">Around 395 AD the <b>Roman Empire</b> split into an<br>East and a West Empire</span></div>
<div id="n_bysci" class="nd" style="left:204.30px;top:489.60px;width:65.40px;height:9.20px;background:#e0eaee;color:#3a4b52"><span class="t" style="font-size:3.774px;line-height:3.720px;transform:scaleX(0.8000)">The <b>Byzantine science</b> never was at the same<br>level as the Ancient Greek science</span></div>
<div id="n_east" class="nd" style="left:132.30px;top:478.00px;width:65.40px;height:9.30px;background:#e0eaee;color:#3a4b52"><span class="t" style="font-size:3.847px;line-height:3.720px;transform:scaleX(0.8000)">East insert of population that formed the<br>Byzantine Empire with capital <b>Constantinople</b></span></div>
<div id="n_why" class="nd" style="left:188.20px;top:491.50px;width:10.00px;height:5.00px;background:#e0eaee;color:#3a4b52"><span class="t" style="font-size:3.846px;line-height:3.720px;transform:scaleX(0.8000)">Why?</span></div>
<div id="n_christ" class="nd" style="left:148.00px;top:491.50px;width:33.50px;height:5.00px;background:#e0eaee;color:#3a4b52"><span class="t" style="font-size:3.750px;line-height:3.720px;transform:scaleX(0.8000)">The rise of <b>Christianity</b></span></div>
<div id="n_relig" class="nd" style="left:77.40px;top:489.60px;width:64.40px;height:9.20px;background:#e0eaee;color:#3a4b52"><span class="t" style="font-size:3.842px;line-height:3.720px;transform:scaleX(0.8000)"><b>Religious beliefs</b> became the main source of<br>ideas &amp; less focus was put on natural science</span></div>
<div id="n_decline" class="nd" style="left:177.70px;top:510.10px;width:67.40px;height:9.50px;background:#e0eaee;color:#3a4b52"><span class="t" style="font-size:3.856px;line-height:3.720px;transform:scaleX(0.8000)"><b>Decline in sciences:</b> lot of political disruption &amp;<br>economic downfall</span></div>
<div id="n_dark" class="nd" style="left:121.50px;top:511.90px;width:49.60px;height:5.40px;background:#e0eaee;color:#3a4b52"><span class="t" style="font-size:3.839px;line-height:3.720px;transform:scaleX(0.8000)"><b>Dark Ages:</b> Middle Ages in Europe</span></div>
<div id="n_latin" class="nd" style="left:49.20px;top:500.70px;width:66.60px;height:12.80px;background:#e0eaee;color:#3a4b52"><span class="t" style="font-size:3.845px;line-height:3.720px;transform:scaleX(0.8000)">The Romans dominated nations so people<br>started learning Latin rather than Greek which<br>created a <b>language barrier</b> with Greek science</span></div>
<div id="n_fall" class="nd" style="left:53.50px;top:516.10px;width:62.30px;height:12.70px;background:#e0eaee;color:#3a4b52"><span class="t" style="font-size:3.988px;line-height:3.720px;transform:scaleX(0.8000)">476 AD <b>Fall of Rome,</b> important catholic<br>education not focused on science &amp; critical<br>thinking</span></div>
<div id="n_writ" class="nd mn mw" style="left:490.90px;top:97.10px;width:53.10px;height:10.30px;background:#e8645a;color:#ffffff;border-radius:1.6px"><span class="t" style="font-size:5.470px;line-height:6.564px">Invention of writing</span></div>
<div id="n_prelit" class="nd" style="left:550.30px;top:28.50px;width:35.40px;height:5.30px;background:#fde3e0;color:#6a3434"><span class="t" style="font-size:3.830px;line-height:3.720px;transform:scaleX(0.8000)"><b>Preliterate civilisations</b></span></div>
<div id="n_firstsys" class="nd" style="left:550.30px;top:61.20px;width:31.70px;height:5.40px;background:#fde3e0;color:#6a3434"><span class="t" style="font-size:3.713px;line-height:3.720px;transform:scaleX(0.8000)"><b>First writing systems</b></span></div>
<div id="n_charac" class="nd" style="left:550.30px;top:91.80px;width:51.70px;height:5.40px;background:#fde3e0;color:#6a3434"><span class="t" style="font-size:3.811px;line-height:3.720px;transform:scaleX(0.8000)"><b>Characteristics of writing systems</b></span></div>
<div id="n_extmem" class="nd" style="left:550.30px;top:125.80px;width:66.20px;height:5.40px;background:#fde3e0;color:#6a3434"><span class="t" style="font-size:3.877px;line-height:3.720px;transform:scaleX(0.8000)"><b>Written document from an external memory</b></span></div>
<div id="n_reader" class="nd" style="left:550.30px;top:170.40px;width:17.40px;height:4.90px;background:#fde3e0;color:#6a3434"><span class="t" style="font-size:3.775px;line-height:3.720px;transform:scaleX(0.8000)"><b>The reader</b></span></div>
<div id="n_def3" class="nd" style="left:592.00px;top:28.50px;width:31.10px;height:5.30px;background:#fde3e0;color:#6a3434"><span class="t" style="font-size:3.829px;line-height:3.720px;transform:scaleX(0.8000)">Defined by 3 features</span></div>
<div id="n_fluid" class="nd" style="left:629.20px;top:15.40px;width:65.70px;height:9.20px;background:#fde3e0;color:#6a3434"><span class="t" style="font-size:3.865px;line-height:3.720px;transform:scaleX(0.8000)">Fluidity of knowledge (limited to 2 generations)<br>&amp; transmit practical skills</span></div>
<div id="n_confined" class="nd" style="left:629.20px;top:27.20px;width:63.40px;height:8.80px;background:#fde3e0;color:#6a3434"><span class="t" style="font-size:3.977px;line-height:3.720px;transform:scaleX(0.8000)">Knowledge confined to "know-how", without<br>theoretical understanding</span></div>
<div id="n_myths" class="nd" style="left:629.20px;top:40.30px;width:60.30px;height:9.00px;background:#fde3e0;color:#6a3434"><span class="t" style="font-size:3.918px;line-height:3.720px;transform:scaleX(0.8000)">Existence of myths about beginning of the<br>universe, life and natural phenomena</span></div>
<div id="n_animism" class="nd" style="left:695.70px;top:38.50px;width:67.40px;height:12.70px;background:#fde3e0;color:#6a3434"><span class="t" style="font-size:3.874px;line-height:3.720px;transform:scaleX(0.8000)"><i style="color:#b0489a">ANIMISM:</i> explanation of workings of world and<br>universe by means of spirits with human-like<br>characteristics</span></div>
<div id="n_proto" class="nd" style="left:588.20px;top:57.70px;width:65.60px;height:12.80px;background:#fde3e0;color:#6a3434"><span class="t" style="font-size:3.822px;line-height:3.720px;transform:scaleX(0.8000)"><i style="color:#b0489a">PROTOWRITING</i> (before written language<br>appeared): use of symbols to represent entities<br>without linguistic information linking them</span></div>
<div id="n_four" class="nd" style="left:660.00px;top:59.50px;width:64.60px;height:9.30px;background:#fde3e0;color:#6a3434"><span class="t" style="font-size:3.972px;line-height:3.720px;transform:scaleX(0.8000)">Written language appeared first in 4 different<br>cultures</span></div>
<div id="n_china" class="nd" style="left:730.80px;top:53.50px;width:36.10px;height:5.30px;background:#fde3e0;color:#6a3434"><span class="t" style="font-size:3.707px;line-height:3.720px;transform:scaleX(0.8000)">China - around 1600 BCE</span></div>
<div id="n_egypt" class="nd" style="left:730.80px;top:61.20px;width:51.50px;height:5.40px;background:#fde3e0;color:#6a3434"><span class="t" style="font-size:3.727px;line-height:3.720px;transform:scaleX(0.8000)">Egypt and Sumer - around 3200 BCE</span></div>
<div id="n_america" class="nd" style="left:730.80px;top:69.20px;width:38.00px;height:5.40px;background:#fde3e0;color:#6a3434"><span class="t" style="font-size:3.750px;line-height:3.720px;transform:scaleX(0.8000)">America - around 300 BCE</span></div>
<div id="n_picto" class="nd" style="left:608.20px;top:76.90px;width:62.60px;height:9.30px;background:#fde3e0;color:#6a3434"><span class="t" style="font-size:3.865px;line-height:3.720px;transform:scaleX(0.8000)"><i style="color:#b0489a">PICTOGRAMS:</i> pictures that resemble<br>persons, animals and objects they represent</span></div>
<div id="n_logo" class="nd" style="left:608.20px;top:88.50px;width:63.00px;height:13.00px;background:#fde3e0;color:#6a3434"><span class="t" style="font-size:3.756px;line-height:3.720px;transform:scaleX(0.8000)"><i style="color:#b0489a">LOGOGRAPH:</i> signs that represent a spoken<br>word, which no longer has a physical<br>resemblance to the word's meaning</span></div>
<div id="n_phono" class="nd" style="left:608.20px;top:103.80px;width:64.60px;height:8.60px;background:#fde3e0;color:#6a3434"><span class="t" style="font-size:3.799px;line-height:3.720px;transform:scaleX(0.8000)"><i style="color:#b0489a">PHONOGRAMS:</i> signs to represent sounds of<br>spoken language</span></div>
<div id="n_accum" class="nd" style="left:623.10px;top:114.80px;width:59.20px;height:12.60px;background:#fde3e0;color:#6a3434"><span class="t" style="font-size:3.803px;line-height:3.720px;transform:scaleX(0.8000)">Writing allows the accumulation and<br>preservation of knowledge (previous<br>discoveries don't need to be rediscovered)</span></div>
<div id="n_socr" class="nd" style="left:623.10px;top:129.80px;width:60.40px;height:12.80px;background:#fde3e0;color:#6a3434"><span class="t" style="font-size:3.883px;line-height:3.720px;transform:scaleX(0.8000)"><b>Socrates (c. 470-399 BCE):</b> Argues that<br>writing leads to forgetfulness, laziness and<br>discouragement of proper studying</span></div>
<div id="n_many" class="nd" style="left:573.80px;top:144.50px;width:57.70px;height:12.80px;background:#fde3e0;color:#6a3434"><span class="t" style="font-size:3.956px;line-height:3.720px;transform:scaleX(0.8000)">For many centuries, a large part of the<br>population was excluded from acquiring<br>reading skills</span></div>
<div id="n_scriptio" class="nd" style="left:573.80px;top:159.60px;width:65.10px;height:12.80px;background:#fde3e0;color:#6a3434"><span class="t" style="font-size:3.924px;line-height:3.720px;transform:scaleX(0.8000)"><i style="color:#b0489a">SCRIPTIO CONTINUA</i> (continuous script):<br>early scripts (until 8th century) had no spaces<br>between the words</span></div>
<div id="n_ortho" class="nd" style="left:573.80px;top:177.00px;width:35.90px;height:5.40px;background:#fde3e0;color:#6a3434"><span class="t" style="font-size:3.924px;line-height:3.720px;transform:scaleX(0.8000)">Influence of orthography</span></div>
<div id="n_critical" class="nd" style="left:573.80px;top:192.30px;width:45.70px;height:5.40px;background:#fde3e0;color:#6a3434"><span class="t" style="font-size:3.902px;line-height:3.720px;transform:scaleX(0.8000)">Reading without critical thinking</span></div>
<div id="n_mumble" class="nd" style="left:645.30px;top:161.60px;width:65.50px;height:9.40px;background:#fde3e0;color:#6a3434"><span class="t" style="font-size:3.949px;line-height:3.720px;transform:scaleX(0.8000)">Couldn't be read without mumbling or reading<br>out loud</span></div>
<div id="n_acquis" class="nd" style="left:616.20px;top:174.90px;width:66.40px;height:9.40px;background:#fde3e0;color:#6a3434"><span class="t" style="font-size:3.744px;line-height:3.720px;transform:scaleX(0.8000)">Reading acquisition is easiest in languages with<br>transparent relationship (like spelling and sound)</span></div>
<div id="n_spanish" class="nd" style="left:688.90px;top:174.90px;width:62.30px;height:9.70px;background:#fde3e0;color:#6a3434"><span class="t" style="font-size:3.750px;line-height:3.720px;transform:scaleX(0.8000)">Eg. Spanish, Italian, Serbo-Croatian, German<br>and Korean</span></div>
<div id="n_scholast" class="nd" style="left:626.20px;top:186.70px;width:66.10px;height:16.30px;background:#fde3e0;color:#6a3434"><span class="t" style="font-size:3.871px;line-height:3.720px;transform:scaleX(0.8000)"><i style="color:#b0489a">SCHOLASTIC METHOD:</i> During Middle Ages,<br>students were taught to read and understand<br>text exactly as they were, with discouragement<br>to question writings</span></div>
<div id="n_num" class="nd mn mb" style="left:490.60px;top:234.60px;width:59.30px;height:10.30px;background:#a8af6c;color:#1f1f12;border-radius:1.6px"><span class="t" style="font-size:5.268px;line-height:6.322px">Discovery of numbers</span></div>
<div id="n_count" class="nd" style="left:556.20px;top:220.80px;width:65.80px;height:5.40px;background:#f0f0e3;color:#4a4a30"><span class="t" style="font-size:3.744px;line-height:3.720px;transform:scaleX(0.8000)">First evidence of counting: 35,000 - 20,000 BCE</span></div>
<div id="n_names" class="nd" style="left:556.20px;top:253.40px;width:46.90px;height:5.40px;background:#f0f0e3;color:#4a4a30"><span class="t" style="font-size:3.692px;line-height:3.720px;transform:scaleX(0.8000)">Giving numbers names &amp; symbols</span></div>
<div id="n_how" class="nd" style="left:628.50px;top:220.80px;width:29.70px;height:5.40px;background:#f0f0e3;color:#4a4a30"><span class="t" style="font-size:3.805px;line-height:3.720px;transform:scaleX(0.8000)">How did they count?</span></div>
<div id="n_upto3" class="nd" style="left:664.30px;top:215.40px;width:23.10px;height:5.10px;background:#f0f0e3;color:#4a4a30"><span class="t" style="font-size:3.937px;line-height:3.720px;transform:scaleX(0.8000)">Up to 3 objects</span></div>
<div id="n_larger" class="nd" style="left:664.30px;top:226.90px;width:23.10px;height:5.10px;background:#f0f0e3;color:#4a4a30"><span class="t" style="font-size:3.715px;line-height:3.720px;transform:scaleX(0.8000)">Larger numbers</span></div>
<div id="n_subit" class="nd" style="left:693.80px;top:211.50px;width:67.00px;height:12.80px;background:#f0f0e3;color:#4a4a30"><span class="t" style="font-size:3.869px;line-height:3.720px;transform:scaleX(0.8000)"><i style="color:#b0307e">SUBITIZING:</i> ability to look at small number of<br>objects &amp; instantly recognise how many objects<br>there are without needing to count</span></div>
<div id="n_tallies" class="nd" style="left:693.80px;top:226.90px;width:59.60px;height:5.10px;background:#f0f0e3;color:#4a4a30"><span class="t" style="font-size:3.770px;line-height:3.720px;transform:scaleX(0.8000)">Grouping of tallies - grouping of lines (ex 5)</span></div>
<div id="n_roots" class="nd" style="left:609.70px;top:234.40px;width:67.20px;height:12.50px;background:#f0f0e3;color:#4a4a30"><span class="t" style="font-size:3.808px;line-height:3.720px;transform:scaleX(0.8000)">The numbers 1 to 10 share the same roots in<br>Indo-European languages &amp; their names existed<br>before 2000 BCE</span></div>
<div id="n_teens" class="nd" style="left:609.70px;top:249.70px;width:64.10px;height:12.60px;background:#f0f0e3;color:#4a4a30"><span class="t" style="font-size:3.881px;line-height:3.720px;transform:scaleX(0.8000)">Name of the teens (11-19) in Indo-European<br>languages are irregular due to the struggle to<br>add integers (base 10) to them</span></div>
<div id="n_place" class="nd" style="left:609.70px;top:264.80px;width:63.40px;height:12.90px;background:#f0f0e3;color:#4a4a30"><span class="t" style="font-size:3.857px;line-height:3.720px;transform:scaleX(0.8000)"><i style="color:#b0307e">PLACE CODING SYSTEM:</i> System in which<br>meaning of sign depends on its form but also<br>on its position in string</span></div>
<div id="n_zero" class="nd" style="left:679.20px;top:268.50px;width:61.60px;height:5.30px;background:#f0f0e3;color:#4a4a30"><span class="t" style="font-size:3.860px;line-height:3.720px;transform:scaleX(0.8000)">Needs to include symbol for absence (zero)</span></div>
<div id="n_full" class="nd" style="left:746.90px;top:268.50px;width:32.30px;height:5.30px;background:#f0f0e3;color:#4a4a30"><span class="t" style="font-size:3.642px;line-height:3.720px;transform:scaleX(0.8000)">Fully in use in 500 BCE</span></div>
<div id="n_fert" class="nd mn mb" style="left:490.50px;top:315.40px;width:54.40px;height:10.40px;background:#6fa784;color:#121c15;border-radius:1.6px"><span class="t" style="font-size:5.400px;line-height:6.480px;top:0.4px">The fertile crescent</span></div>
<div id="n_region" class="nd" style="left:550.80px;top:300.30px;width:60.70px;height:9.40px;background:#e5efe8;color:#354b3d"><span class="t" style="font-size:3.862px;line-height:3.720px;transform:scaleX(0.8000)">Region in the middle east with high level of<br>civilisations around 3000 BCE</span></div>
<div id="n_growth" class="nd" style="left:550.80px;top:333.80px;width:52.30px;height:5.70px;background:#e5efe8;color:#354b3d"><span class="t" style="font-size:3.905px;line-height:3.720px;transform:scaleX(0.8000)">Place of important growth of science</span></div>
<div id="n_incl2" class="nd" style="left:617.40px;top:302.00px;width:32.60px;height:5.40px;background:#e5efe8;color:#354b3d"><span class="t" style="font-size:3.864px;line-height:3.720px;transform:scaleX(0.8000)">Includes 2 civilisations</span></div>
<div id="n_egyptA" class="nd" style="left:656.20px;top:293.80px;width:22.70px;height:5.40px;background:#e5efe8;color:#354b3d"><span class="t" style="font-size:3.862px;line-height:3.720px;transform:scaleX(0.8000)"><i style="color:#b0307e">Ancient Egypt</i></span></div>
<div id="n_meso" class="nd" style="left:656.20px;top:310.00px;width:33.80px;height:5.40px;background:#e5efe8;color:#354b3d"><span class="t" style="font-size:3.859px;line-height:3.720px;transform:scaleX(0.8000)"><i style="color:#b0307e">Ancient Mesopotamia</i></span></div>
<div id="n_geom" class="nd" style="left:685.10px;top:285.80px;width:34.10px;height:5.40px;background:#e5efe8;color:#354b3d"><span class="t" style="font-size:3.821px;line-height:3.720px;transform:scaleX(0.8000)">Geometrical knowledge</span></div>
<div id="n_calend" class="nd" style="left:685.10px;top:294.20px;width:34.10px;height:5.30px;background:#e5efe8;color:#354b3d"><span class="t" style="font-size:3.858px;line-height:3.720px;transform:scaleX(0.8000)">Division of the calendar</span></div>
<div id="n_hiero" class="nd" style="left:685.10px;top:302.30px;width:18.00px;height:5.40px;background:#e5efe8;color:#354b3d"><span class="t" style="font-size:3.774px;line-height:3.720px;transform:scaleX(0.8000)">Hieroglyphs</span></div>
<div id="n_math" class="nd" style="left:696.20px;top:310.00px;width:61.20px;height:5.40px;background:#e5efe8;color:#354b3d"><span class="t" style="font-size:3.795px;line-height:3.720px;transform:scaleX(0.8000)">Mathematics (algebra, astronomy, calendar)</span></div>
<div id="n_prone" class="nd" style="left:609.20px;top:333.80px;width:66.60px;height:5.70px;background:#e5efe8;color:#354b3d"><span class="t" style="font-size:3.901px;line-height:3.720px;transform:scaleX(0.8000)">Conditions prone to promote growth of science</span></div>
<div id="n_polit" class="nd" style="left:682.30px;top:317.70px;width:24.30px;height:5.40px;background:#e5efe8;color:#354b3d"><span class="t" style="font-size:3.926px;line-height:3.720px;transform:scaleX(0.8000)">Political stability</span></div>
<div id="n_urban" class="nd" style="left:682.30px;top:325.70px;width:18.80px;height:5.40px;background:#e5efe8;color:#354b3d"><span class="t" style="font-size:3.750px;line-height:3.720px;transform:scaleX(0.8000)">Urbanisation</span></div>
<div id="n_patron" class="nd" style="left:682.30px;top:333.80px;width:15.40px;height:5.40px;background:#e5efe8;color:#354b3d"><span class="t" style="font-size:3.641px;line-height:3.720px;transform:scaleX(0.8000)">Patronage</span></div>
<div id="n_wsys" class="nd" style="left:682.30px;top:341.80px;width:60.80px;height:9.30px;background:#e5efe8;color:#354b3d"><span class="t" style="font-size:3.868px;line-height:3.720px;transform:scaleX(0.8000)">Writing system that was easy enough to be<br>learned by enough people</span></div>
<div id="n_greeks" class="nd mn mb" style="left:490.70px;top:553.00px;width:33.30px;height:10.20px;background:#5e9f99;color:#101a19;border-radius:1.6px"><span class="t" style="font-size:5.040px;line-height:6.048px">The greeks</span></div>
<div id="n_borrow" class="nd" style="left:530.00px;top:483.40px;width:60.80px;height:9.20px;background:#e0eded;color:#324644"><span class="t" style="font-size:3.952px;line-height:3.720px;transform:scaleX(0.8000)">Initially borrowed knowledge from Egypt &amp;<br>Mesopotamia, and then added their own</span></div>
<div id="n_shift" class="nd" style="left:530.00px;top:625.50px;width:32.60px;height:5.90px;background:#e0eded;color:#324644"><span class="t" style="font-size:3.864px;line-height:3.720px;transform:scaleX(0.8000)">The shift to Alexandria</span></div>
<div id="n_first" class="nd" style="left:596.90px;top:485.10px;width:65.10px;height:5.70px;background:#e0eded;color:#324644"><span class="t" style="font-size:3.885px;line-height:3.720px;transform:scaleX(0.8000)">They were the first to question nature of world</span></div>
<div id="n_philo" class="nd" style="left:668.00px;top:481.20px;width:63.10px;height:13.40px;background:#e0eded;color:#324644"><span class="t" style="font-size:3.877px;line-height:3.720px;transform:scaleX(0.8000)"><i style="color:#b0307e">PHILOSOPHY:</i> critical reflection on universe<br>and human functioning. Started in Ancient<br>Greece around 600 BCE</span></div>
<div id="n_alex" class="nd" style="left:568.90px;top:621.80px;width:65.60px;height:12.70px;background:#e0eded;color:#324644"><span class="t" style="font-size:3.916px;line-height:3.720px;transform:scaleX(0.8000)">Under <b>Alexander the Great (356-323 BCE)</b>,<br>Greek culture expanded from Egypt to India &amp;<br>the whole Fertile Crescent</span></div>
<div id="n_hellen" class="nd" style="left:640.60px;top:621.50px;width:54.10px;height:13.50px;background:#e0eded;color:#324644"><span class="t" style="font-size:3.971px;line-height:3.720px;transform:scaleX(0.8000)"><b>Hellenistic culture:</b> new dynamic of<br>interactions that continued even after<br>Alexander's death</span></div>
<div id="n_pwho" class="nd" style="left:788.20px;top:367.30px;width:10.70px;height:5.40px;background:#e0eded;color:#324644"><span class="t" style="font-size:3.884px;line-height:3.720px;transform:scaleX(0.8000)"><b>Who?</b></span></div>
<div id="n_pmain" class="nd" style="left:788.20px;top:404.70px;width:17.20px;height:5.40px;background:#e0eded;color:#324644"><span class="t" style="font-size:3.725px;line-height:3.720px;transform:scaleX(0.8000)"><b>Main ideas</b></span></div>
<div id="n_pmeth" class="nd" style="left:788.00px;top:453.50px;width:33.80px;height:5.70px;background:#e0eded;color:#324644"><span class="t" style="font-size:3.897px;line-height:3.720px;transform:scaleX(0.8000)"><b>Method of knowledge</b></span></div>
<div id="n_prel" class="nd" style="left:788.00px;top:470.50px;width:38.20px;height:5.70px;background:#e0eded;color:#324644"><span class="t" style="font-size:3.803px;line-height:3.720px;transform:scaleX(0.8000)"><b>Relationship with church</b></span></div>
<div id="n_academy" class="nd" style="left:805.80px;top:359.30px;width:58.50px;height:5.20px;background:#e0eded;color:#324644"><span class="t" style="font-size:3.797px;line-height:3.720px;transform:scaleX(0.8000)">Founder of Academy in Athens (388 BCE)</span></div>
<div id="n_pupil" class="nd" style="left:805.80px;top:367.30px;width:62.40px;height:5.40px;background:#e0eded;color:#324644"><span class="t" style="font-size:3.813px;line-height:3.720px;transform:scaleX(0.8000)">Pupil of Socrates and recorded his dialogues</span></div>
<div id="n_infl2" class="nd" style="left:805.80px;top:375.30px;width:54.20px;height:5.40px;background:#e0eded;color:#324644"><span class="t" style="font-size:4.078px;line-height:3.720px;transform:scaleX(0.8000)">Strongly influenced by Ibid Socrates</span></div>
<div id="n_realm" class="nd" style="left:811.50px;top:388.80px;width:43.60px;height:5.40px;background:#e0eded;color:#324644"><span class="t" style="font-size:3.910px;line-height:3.720px;transform:scaleX(0.8000)"><i style="color:#b0307e">The realm of the ideal forms</i></span></div>
<div id="n_soul" class="nd" style="left:811.50px;top:421.20px;width:51.60px;height:5.30px;background:#e0eded;color:#324644"><span class="t" style="font-size:3.827px;line-height:3.720px;transform:scaleX(0.8000)"><i style="color:#b0307e">Distinction into 3 parts of the soul</i></span></div>
<div id="n_distinct" class="nd" style="left:861.10px;top:383.50px;width:65.80px;height:16.10px;background:#e0eded;color:#324644"><span class="t" style="font-size:3.890px;line-height:3.720px;transform:scaleX(0.8000)">Distinction into the realm of eternal, never-<br>changing ideal forms and realm of ever-<br>changing material reality in which these formal<br>ideas are imperfectly realised</span></div>
<div id="n_appet" class="nd" style="left:921.50px;top:403.80px;width:40.00px;height:5.40px;background:#e0eded;color:#324644"><span class="t" style="font-size:3.800px;line-height:3.720px;transform:scaleX(0.8000)"><b>Appetite &amp; lower passions</b></span></div>
<div id="n_reason" class="nd" style="left:921.50px;top:421.20px;width:13.10px;height:5.40px;background:#e0eded;color:#324644"><span class="t" style="font-size:3.854px;line-height:3.720px;transform:scaleX(0.8000)"><b>Reason</b></span></div>
<div id="n_sens" class="nd" style="left:921.50px;top:438.20px;width:31.60px;height:5.60px;background:#e0eded;color:#324644"><span class="t" style="font-size:3.737px;line-height:3.720px;transform:scaleX(0.8000)"><b>Sensation &amp; emotion</b></span></div>
<div id="n_liver" class="nd" style="left:967.70px;top:403.80px;width:8.50px;height:5.40px;background:#e0eded;color:#324644"><span class="t" style="font-size:3.693px;line-height:3.720px;transform:scaleX(0.8000)">Liver</span></div>
<div id="n_lust" class="nd" style="left:982.30px;top:402.00px;width:63.90px;height:9.20px;background:#e0eded;color:#324644"><span class="t" style="font-size:3.869px;line-height:3.720px;transform:scaleX(0.8000)">Deals with appetite &amp; lower passions such as<br>lust, greed &amp; desire</span></div>
<div id="n_brain" class="nd" style="left:941.20px;top:421.20px;width:8.30px;height:5.40px;background:#e0eded;color:#324644"><span class="t" style="font-size:3.424px;line-height:3.720px;transform:scaleX(0.8000)">Brain</span></div>
<div id="n_access" class="nd" style="left:956.20px;top:413.50px;width:63.00px;height:9.30px;background:#e0eded;color:#324644"><span class="t" style="font-size:3.910px;line-height:3.720px;transform:scaleX(0.8000)">Allows us to get access to the realm of ideal<br>forms</span></div>
<div id="n_guides" class="nd" style="left:956.20px;top:425.10px;width:64.60px;height:9.20px;background:#e0eded;color:#324644"><span class="t" style="font-size:3.932px;line-height:3.720px;transform:scaleX(0.8000)">Guides us to fulfil our nature by searching for<br>abstract, non-worldly perfection in our life</span></div>
<div id="n_heart" class="nd" style="left:960.00px;top:438.50px;width:8.90px;height:5.30px;background:#e0eded;color:#324644"><span class="t" style="font-size:3.594px;line-height:3.720px;transform:scaleX(0.8000)">Heart</span></div>
<div id="n_emot" class="nd" style="left:975.10px;top:436.60px;width:65.20px;height:9.20px;background:#e0eded;color:#324644"><span class="t" style="font-size:3.854px;line-height:3.720px;transform:scaleX(0.8000)">Deals with emotions &amp; sensations as it doesn't<br>pollute the soul</span></div>
<div id="n_ration" class="nd" style="left:828.50px;top:448.50px;width:64.10px;height:15.80px;background:#e0eded;color:#324644"><span class="t" style="font-size:3.787px;line-height:3.700px;transform:scaleX(0.8000)"><i style="color:#b0307e">RATIONALISM:</i> truth is based on thinking, not<br>on information from the senses; human have<br>innate knowledge that can be recovered<br>through deductive reasoning</span></div>
<div id="n_views" class="nd" style="left:832.30px;top:466.90px;width:67.40px;height:12.80px;background:#e0eded;color:#324644"><span class="t" style="font-size:3.767px;line-height:3.720px;transform:scaleX(0.8000)">Views appropriated by Christian churches, books<br>widely available in late Roman Empire and<br>Middle Ages</span></div>
<div id="n_awho" class="nd" style="left:784.30px;top:490.50px;width:10.80px;height:5.20px;background:#e0eded;color:#324644"><span class="t" style="font-size:3.548px;line-height:3.720px;transform:scaleX(0.8000)"><b>What?</b></span></div>
<div id="n_amain" class="nd" style="left:784.30px;top:551.20px;width:17.70px;height:5.40px;background:#e0eded;color:#324644"><span class="t" style="font-size:3.848px;line-height:3.720px;transform:scaleX(0.8000)"><b>Main ideas</b></span></div>
<div id="n_ameth" class="nd" style="left:784.30px;top:596.90px;width:34.20px;height:5.40px;background:#e0eded;color:#324644"><span class="t" style="font-size:3.946px;line-height:3.720px;transform:scaleX(0.8000)"><b>Method of knowledge</b></span></div>
<div id="n_arel" class="nd" style="left:784.30px;top:610.80px;width:38.50px;height:5.40px;background:#e0eded;color:#324644"><span class="t" style="font-size:3.834px;line-height:3.720px;transform:scaleX(0.8000)"><b>Relationship with church</b></span></div>
<div id="n_student" class="nd" style="left:801.50px;top:482.30px;width:24.30px;height:5.10px;background:#e0eded;color:#324644"><span class="t" style="font-size:3.926px;line-height:3.720px;transform:scaleX(0.8000)">Student of Plato</span></div>
<div id="n_lyceum" class="nd" style="left:801.50px;top:490.50px;width:55.00px;height:5.20px;background:#e0eded;color:#324644"><span class="t" style="font-size:3.701px;line-height:3.720px;transform:scaleX(0.8000)">Founder of Lyceum in Athens (335 BCE)</span></div>
<div id="n_contrib" class="nd" style="left:801.50px;top:498.50px;width:66.50px;height:8.90px;background:#e0eded;color:#324644"><span class="t" style="font-size:3.991px;line-height:3.720px;transform:scaleX(0.8000)">Contributed to many subjects: biology - logic -<br>metaphysics - psychology</span></div>
<div id="n_types" class="nd" style="left:808.50px;top:523.10px;width:45.00px;height:5.70px;background:#e0eded;color:#324644"><span class="t" style="font-size:3.812px;line-height:3.720px;transform:scaleX(0.8000)"><i style="color:#b0307e">Defined 3 types of knowledge</i></span></div>
<div id="n_vision" class="nd" style="left:808.50px;top:555.40px;width:33.00px;height:5.70px;background:#e0eded;color:#324644"><span class="t" style="font-size:3.726px;line-height:3.720px;transform:scaleX(0.8000)"><i style="color:#b0307e">Vision of the universe</i></span></div>
<div id="n_logic" class="nd" style="left:808.50px;top:579.20px;width:10.00px;height:5.40px;background:#e0eded;color:#324644"><span class="t" style="font-size:3.704px;line-height:3.720px;transform:scaleX(0.8000)"><i style="color:#b0307e">Logic</i></span></div>
<div id="n_prod" class="nd" style="left:860.30px;top:510.00px;width:65.10px;height:9.20px;background:#e0eded;color:#324644"><span class="t" style="font-size:3.792px;line-height:3.720px;transform:scaleX(0.8000)"><i style="color:#b0307e">PRODUCTIVE KNOWLEDGE:</i> concerned with<br>making things</span></div>
<div id="n_pract" class="nd" style="left:860.30px;top:521.50px;width:55.90px;height:9.30px;background:#e0eded;color:#324644"><span class="t" style="font-size:3.743px;line-height:3.720px;transform:scaleX(0.8000)"><i style="color:#b0307e">PRACTICAL KNOWLEDGE:</i> how one is<br>supposed to act in various situations</span></div>
<div id="n_theor" class="nd" style="left:860.30px;top:533.10px;width:63.50px;height:12.70px;background:#e0eded;color:#324644"><span class="t" style="font-size:3.768px;line-height:3.720px;transform:scaleX(0.8000)"><i style="color:#b0307e">THEORETICAL KNOWLEDGE:</i> its goal is not<br>production/action, but truth (mathematics,<br>natural science &amp; theology)</span></div>
<div id="n_axioms" class="nd" style="left:929.70px;top:534.60px;width:60.00px;height:9.60px;background:#e0eded;color:#324644"><span class="t" style="font-size:3.856px;line-height:3.720px;transform:scaleX(0.8000)">Based on axioms from which knowledge is<br>derived through logic thinking</span></div>
<div id="n_sublunar" class="nd" style="left:847.70px;top:550.00px;width:54.30px;height:5.40px;background:#e0eded;color:#324644"><span class="t" style="font-size:3.915px;line-height:3.720px;transform:scaleX(0.8000)">Sub-lunar region - from earth to moon</span></div>
<div id="n_superlunar" class="nd" style="left:847.70px;top:559.70px;width:64.60px;height:9.20px;background:#e0eded;color:#324644"><span class="t" style="font-size:3.952px;line-height:3.720px;transform:scaleX(0.8000)">Super-lunar region - from moon to the end of<br>the universe</span></div>
<div id="n_elements" class="nd" style="left:908.50px;top:548.20px;width:65.00px;height:9.50px;background:#e0eded;color:#324644"><span class="t" style="font-size:3.860px;line-height:3.720px;transform:scaleX(0.8000)">Less orderly, constant change, composed of 4<br>elements - air, earth, fire, water</span></div>
<div id="n_aether" class="nd" style="left:918.50px;top:559.70px;width:60.00px;height:9.20px;background:#e0eded;color:#324644"><span class="t" style="font-size:3.796px;line-height:3.720px;transform:scaleX(0.8000)">Composed of aether (a divine element),<br>contains stars moving in a perfect harmony</span></div>
<div id="n_which" class="nd" style="left:824.60px;top:579.50px;width:60.00px;height:5.40px;background:#e0eded;color:#324644"><span class="t" style="font-size:3.856px;line-height:3.720px;transform:scaleX(0.8000)">Which syllogism lead to valid conclusions?</span></div>
<div id="n_propos" class="nd" style="left:891.10px;top:577.70px;width:60.40px;height:9.20px;background:#e0eded;color:#324644"><span class="t" style="font-size:3.744px;line-height:3.720px;transform:scaleX(0.8000)"><i style="color:#b0307e">PROPOSITIONS:</i> elementary statements (2<br>terms related to each other)</span></div>
<div id="n_syllog" class="nd" style="left:958.20px;top:577.70px;width:54.40px;height:9.20px;background:#e0eded;color:#324644"><span class="t" style="font-size:3.764px;line-height:3.720px;transform:scaleX(0.8000)"><i style="color:#b0307e">SYLLOGISM:</i> argument consisting of 3<br>propositions</span></div>
<div id="n_major" class="nd" style="left:1018.90px;top:571.20px;width:20.80px;height:5.70px;background:#e0eded;color:#324644"><span class="t" style="font-size:3.730px;line-height:3.720px;transform:scaleX(0.8000)">Major premise</span></div>
<div id="n_minor" class="nd" style="left:1018.90px;top:579.50px;width:20.80px;height:5.40px;background:#e0eded;color:#324644"><span class="t" style="font-size:3.730px;line-height:3.720px;transform:scaleX(0.8000)">Minor premise</span></div>
<div id="n_concl" class="nd" style="left:1018.90px;top:587.40px;width:17.30px;height:5.70px;background:#e0eded;color:#324644"><span class="t" style="font-size:3.903px;line-height:3.720px;transform:scaleX(0.8000)">Conclusion</span></div>
<div id="n_lessreason" class="nd" style="left:825.10px;top:595.40px;width:64.10px;height:9.20px;background:#e0eded;color:#324644"><span class="t" style="font-size:3.768px;line-height:3.720px;transform:scaleX(0.8000)">Less based on reason than Plato, leaves room<br>for observation</span></div>
<div id="n_popular" class="nd" style="left:828.90px;top:607.20px;width:66.20px;height:12.80px;background:#e0eded;color:#324644"><span class="t" style="font-size:3.877px;line-height:3.720px;transform:scaleX(0.8000)">Most popular author in Renaissance which first<br>led to some tensions with the Roman Catholic<br>Church</span></div>
<div class="nd mn" style="left:404.9px;top:313.7px;width:74.8px;height:13.9px;background:#a0dcfb;color:#262626;border-radius:2px;justify-content:center;padding:0"><span class="t" style="font-size:7.2px;line-height:8px;-webkit-text-stroke:0.18px #262626;transform:scaleX(0.92);top:0.2px">T1: Once upon a time</span></div>
<div style="position:absolute;left:736.9px;top:395.6px;width:44.7px;height:52.2px;background:#e0eded;border-radius:1.2px"></div>
<svg style="position:absolute;left:737.9px;top:396.8px" width="43.1" height="43.3" viewBox="15 15 620 620">
<defs>
<filter id="bl" x="-20%" y="-20%" width="140%" height="140%"><feGaussianBlur stdDeviation="14"/></filter>
<filter id="bl2" x="-20%" y="-20%" width="140%" height="140%"><feGaussianBlur stdDeviation="7"/></filter>
<filter id="tx" x="0" y="0" width="100%" height="100%"><feTurbulence type="fractalNoise" baseFrequency="0.09" numOctaves="2" seed="3"/><feColorMatrix type="matrix" values="0 0 0 0 0.25  0 0 0 0 0.23  0 0 0 0 0.2  0 0 0 1.6 -0.75"/><feComposite in2="SourceGraphic" operator="in"/></filter>
<radialGradient id="pbg" cx="50%" cy="35%" r="75%"><stop offset="0" stop-color="#ebe7df"/><stop offset="0.7" stop-color="#e2ded5"/><stop offset="1" stop-color="#d2cdc4"/></radialGradient>
</defs>
<rect x="15" y="15" width="620" height="620" fill="url(#pbg)"/>
<g filter="url(#bl)">
<path d="M15 480 C60 430 120 400 190 390 L470 395 C540 415 600 445 635 480 L635 635 L15 635 Z" fill="#7d776e"/>
<path d="M140 635 C150 530 190 450 250 425 L410 425 C460 455 490 540 490 635 Z" fill="#d2ccc0"/>
<path d="M440 420 C520 440 600 470 635 530 L635 635 L410 635 C450 560 465 480 440 420 Z" fill="#36322d"/>
<path d="M15 540 C50 500 90 480 130 480 L110 635 L15 635 Z" fill="#8d877f"/>
<path d="M185 230 C180 110 250 40 335 40 C430 40 500 110 500 230 C500 330 460 420 330 440 C230 425 190 340 185 230 Z" fill="#7c766c"/>
<path d="M220 190 C250 130 330 120 400 140 C440 160 450 220 440 280 C420 350 380 380 320 380 C260 375 225 330 215 260 Z" fill="#cdc7bc"/>
<path d="M200 320 C220 400 270 440 330 445 C400 440 450 390 465 320 C420 350 380 360 330 360 C280 360 240 350 200 320 Z" fill="#c4beb2"/>
<path d="M380 60 C450 90 500 160 500 260 L470 320 C475 200 440 120 380 60 Z" fill="#4e4942"/>
</g>
<g filter="url(#bl2)">
<path d="M215 255 C235 240 260 238 285 250 M385 255 C405 240 425 242 445 255" stroke="#4a443e" stroke-width="16" fill="none"/>
<circle cx="430" cy="370" r="14" fill="#3e3934"/>
<path d="M320 260 L300 320 L340 330" stroke="#6a645c" stroke-width="12" fill="none"/>
<path d="M250 370 C290 350 360 350 410 375" stroke="#6a645c" stroke-width="14" fill="none"/>
<path d="M440 210 C470 280 470 360 430 420" stroke="#5e5850" stroke-width="16" fill="none"/>
<path d="M200 200 C190 280 210 360 250 410" stroke="#7a746b" stroke-width="12" fill="none"/>
<path d="M250 470 L265 635 M370 480 L380 635" stroke="#a39d92" stroke-width="10"/>
</g>
<clipPath id="hc"><path d="M185 230 C180 110 250 40 335 40 C430 40 500 110 500 230 C500 330 460 420 330 440 C230 425 190 340 185 230 Z M15 480 C60 430 120 400 190 390 L470 395 C540 415 600 445 635 480 L635 635 L15 635 Z"/></clipPath><rect x="15" y="15" width="620" height="620" fill="#fff" filter="url(#tx)" opacity="0.55" clip-path="url(#hc)"/>
<circle cx="55" cy="590" r="24" fill="#5a554e"/>
</svg>
<div class="nd" style="left:737.8px;top:442.4px;width:40px;height:4.6px;color:#1f3331;padding-left:0.2px"><span class="t" style="font-size:3.3px;line-height:3.6px;-webkit-text-stroke:0.1px currentColor;color:#13201f"><b>Plato (427 - 348 BCE)</b></span></div>

<div style="position:absolute;left:737px;top:527.3px;width:41.4px;height:53.4px;background:#e0eded;border-radius:1.2px"></div>
<div class="nd" style="left:737.6px;top:527.8px;width:40px;height:4.6px;color:#1f3331;padding-left:0.4px"><span class="t" style="font-size:3.3px;line-height:3.6px;-webkit-text-stroke:0.1px currentColor;color:#13201f"><b>Aristotle (384 - 322 BCE)</b></span></div>
<svg style="position:absolute;left:738.1px;top:534.5px" width="29.9" height="45.7" viewBox="15 20 405 620">
<defs><filter id="ab" x="-5%" y="-5%" width="110%" height="110%"><feGaussianBlur stdDeviation="5"/></filter></defs>
<rect x="15" y="20" width="405" height="620" fill="#ffffff"/>
<g filter="url(#ab)">
<path d="M40 230 C25 130 90 45 200 35 C310 30 395 100 412 210 C420 270 400 320 360 330 L320 300 L300 170 C240 140 130 150 75 200 L65 300 C50 290 42 260 40 230 Z" fill="#efefef" stroke="#1f1f1f" stroke-width="11"/>
<path d="M60 95 C100 65 150 75 190 55 M225 50 C270 62 320 75 350 115 M50 165 C85 125 125 135 155 115 M265 95 C300 105 340 135 360 185 M335 195 C370 215 390 250 380 300 M100 120 C130 100 170 105 200 90" stroke="#2a2a2a" stroke-width="9" fill="none"/>
<path d="M250 150 C295 180 315 250 305 330 C280 290 265 260 240 240 Z" fill="#4a4a4a"/>
<path d="M75 200 C65 280 75 370 130 430 C180 470 250 465 290 420 C320 380 320 300 300 170" fill="#f3f3f3" stroke="#262626" stroke-width="8"/>
<path d="M60 320 C50 420 95 500 170 505 C250 500 300 440 300 350 C260 390 220 400 180 400 C130 400 90 370 60 320 Z" fill="#d4d4d4" stroke="#1a1a1a" stroke-width="8"/>
<path d="M90 370 L100 460 M130 385 L138 485 M172 400 L176 495 M215 395 L220 480 M255 375 L258 450" stroke="#333" stroke-width="6"/>
<path d="M65 215 C95 198 122 203 142 222 M165 222 C200 198 238 203 268 226" stroke="#0c0c0c" stroke-width="16" fill="none"/>
<path d="M145 240 L125 318 L172 328" stroke="#222" stroke-width="9" fill="none"/>
<path d="M100 345 C140 325 190 330 230 348" stroke="#111" stroke-width="13" fill="none"/>
<path d="M85 150 C130 140 200 140 250 150" stroke="#555" stroke-width="6" fill="none"/>
<path d="M25 640 C35 565 80 515 150 505 L300 425 C360 445 405 505 410 640 Z" fill="#fafafa" stroke="#1e1e1e" stroke-width="9"/>
<path d="M300 435 C330 485 340 560 330 640 M80 565 C150 545 250 535 330 555 M110 612 C180 598 250 598 310 612" stroke="#2a2a2a" stroke-width="7" fill="none"/>
</g>
<text x="18" y="630" font-size="48" font-weight="bold" fill="#222" font-family="Liberation Sans">3</text>
</svg>

<div style="position:absolute;left:869.3px;top:408.3px;width:46.2px;height:31.4px;border:0.9px solid #d5e8e6;background:#fff;border-radius:1.6px"></div>
<svg style="position:absolute;left:869.3px;top:408.3px" width="46.2" height="31.4" viewBox="0 0 462 314">
<ellipse cx="231" cy="155" rx="180" ry="140" fill="#d2dbf0" stroke="#8f8f9a" stroke-width="3" stroke-dasharray="6 4"/>
<ellipse cx="160" cy="80" rx="34" ry="25" fill="#fff"/>
<ellipse cx="323" cy="135" rx="43" ry="34" fill="#fff"/>
<ellipse cx="209" cy="231" rx="52" ry="40" fill="#fff"/>
<path d="M150 70 l15 -8 l12 14 l-10 12 z M310 120 l20 -6 l8 20 l-14 10 z M195 220 l18 -10 l12 18 l-6 20 l-16 -4 z" stroke="#777" stroke-width="3" fill="none"/>
<rect x="210" y="40" width="55" height="12" fill="#b8a9a0"/>
<rect x="220" y="56" width="35" height="10" fill="#2f3d7a"/>
<path d="M195 100 L290 128 M120 120 L120 180 M280 180 L240 200" stroke="#8a8a94" stroke-width="3"/>
<path d="M60 165 H155 M60 185 H150 M85 205 H125 M280 185 H360 M290 205 H350 M300 225 H340 M195 150 H240" stroke="#6e6e88" stroke-width="6"/>
</svg>
</body></html>
